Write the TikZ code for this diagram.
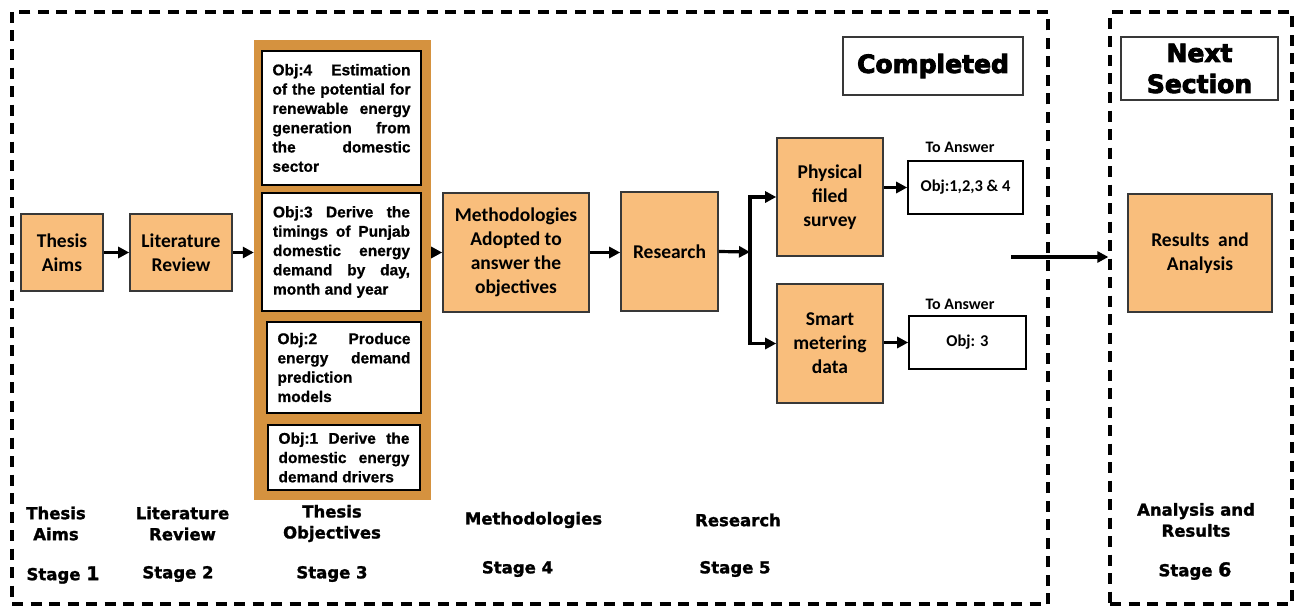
\documentclass[tikz,border=0pt]{standalone}
\usepackage{fontspec}
\setmainfont{Carlito}
\newfontfamily\objfont[BoldFeatures={FakeBold=0.8}]{Liberation Sans}
\newfontfamily\widefont[FakeBold=1.5]{DejaVu Sans Bold}
\newfontfamily\heavyfont[FakeBold=3.5]{DejaVu Sans Bold}
\usetikzlibrary{arrows.meta}

\definecolor{boxfill}{HTML}{F9BE7C}
\definecolor{colfill}{HTML}{D5923F}
\definecolor{edge}{HTML}{383838}

% one justified line / one left-aligned line of an objective text
\newcommand\justln[1]{\hbox to\hsize{#1}}
\newcommand\leftln[1]{\hbox to\hsize{#1\hfil}}

\tikzset{
  stagebox/.style={draw=edge, line width=1.6pt, fill=boxfill, align=center, inner sep=0pt,
    font=\fontsize{19.5}{24}\selectfont\bfseries},
  objbox/.style={draw=black, line width=1.6pt, fill=white, inner sep=0pt,
    font=\objfont\fontsize{15.5}{19.3}\selectfont\bfseries},
  flow/.style={line width=3.2pt, -{Triangle[length=11pt,width=11pt]}},
  plainline/.style={line width=3.2pt},
  frame/.style={draw, line width=3.3pt, dash pattern=on 11pt off 7.5pt, inner sep=0pt},
  stagelabel/.style={align=center, inner sep=0pt, font=\widefont\fontsize{16.5}{21}\selectfont},
  headbox/.style={draw=edge, line width=1.4pt, fill=white, align=center, inner sep=0pt,
    font=\heavyfont\fontsize{25}{31}\selectfont},
  smalllabel/.style={inner sep=0pt, font=\fontsize{16}{20}\selectfont\bfseries},
}

\begin{document}
\begin{tikzpicture}[x=1pt,y=-1pt]
\useasboundingbox (0,0) rectangle (1300,607);

% dashed section frames
\node[frame, minimum width=1036pt, minimum height=592pt] (frameL) at (530,308) {};
\node[frame, minimum width=182pt, minimum height=592pt] (frameR) at (1201,308) {};

% section headings
\node[headbox, minimum width=180pt, minimum height=58pt] (done) at (933,66) {Completed};
\node[headbox, minimum width=157pt, minimum height=63pt] (next) at (1199.5,68.5) {Next\\Section};

% stage boxes
\node[stagebox, minimum width=82pt, minimum height=77pt] (aims) at (62,252.5) {Thesis\\Aims};
\node[stagebox, minimum width=102pt, minimum height=77pt] (lit) at (181,252.5) {Literature\\Review};

% objectives column
\node[fill=colfill, inner sep=0pt, minimum width=177pt, minimum height=460pt] (col) at (342.5,270) {};
\node[objbox, minimum width=159pt, minimum height=134pt] (obj4) at (341.5,118) {\parbox{138pt}{%
  \justln{Obj:4 Estimation}
  \justln{of the potential for}
  \justln{renewable energy}
  \justln{generation from}
  \justln{the domestic}
  \leftln{sector}}};
\node[objbox, minimum width=159pt, minimum height=118pt] (obj3) at (341.5,252) {\parbox{137pt}{%
  \justln{Obj:3 Derive the}
  \justln{timings of Punjab}
  \justln{domestic energy}
  \justln{demand by day,}
  \leftln{month and year}}};
\node[objbox, minimum width=154pt, minimum height=91pt] (obj2) at (344,367.5) {\parbox{133pt}{%
  \justln{Obj:2 Produce}
  \justln{energy demand}
  \leftln{prediction}
  \leftln{models}}};
\node[objbox, minimum width=152pt, minimum height=65pt] (obj1) at (344,457.5) {\parbox{131pt}{%
  \justln{Obj:1 Derive the}
  \justln{domestic energy}
  \leftln{demand drivers}}};

\node[stagebox, minimum width=146pt, minimum height=119pt] (meth) at (516,252.5)
  {Methodologies\\Adopted to\\answer the\\objectives};
\node[stagebox, minimum width=97pt, minimum height=119pt] (res) at (669.5,251.5) {Research};
\node[stagebox, minimum width=106pt, minimum height=118pt] (phys) at (830,197) {Physical\\filed\\survey};
\node[stagebox, minimum width=106pt, minimum height=119pt] (smart) at (830,343.5) {Smart\\metering\\data};

% objectives answered
\node[objbox, font=\fontsize{16.5}{20}\selectfont\bfseries, minimum width=115pt, minimum height=53pt] (ansA) at (965.5,187.5) {Obj:1,2,3 \& 4};
\node[objbox, font=\fontsize{16.5}{20}\selectfont\bfseries, minimum width=117pt, minimum height=53pt] (ansB) at (967.5,342.5) {Obj: 3};
\node[smalllabel] (toA) at (960,147) {To Answer};
\node[smalllabel] (toB) at (960,304) {To Answer};

\node[stagebox, minimum width=144pt, minimum height=118pt] (results) at (1200,253) {Results~~and\\Analysis};

% stage captions
\node[stagelabel] (cap1) at (56,523.5) {Thesis\\Aims};
\node[stagelabel] (cap2) at (182.5,523.5) {Literature\\Review};
\node[stagelabel] (cap3) at (332,523.5) {Thesis\\Objectives};
\node[stagelabel] (cap4) at (533.5,520) {Methodologies};
\node[stagelabel] (cap5) at (738,520) {Research};
\node[stagelabel] (cap6) at (1196,520) {Analysis and\\Results};
\node[stagelabel] (st1) at (63,575) {Stage {\fontsize{19}{19}\selectfont 1}};
\node[stagelabel] (st2) at (178,574) {Stage 2};
\node[stagelabel] (st3) at (332,574) {Stage 3};
\node[stagelabel] (st4) at (517.5,569) {Stage 4};
\node[stagelabel] (st5) at (735,569) {Stage 5};
\node[stagelabel] (st6) at (1195,571) {Stage {\fontsize{19}{19}\selectfont 6}};

% connectors
\coordinate (split) at (750,252);
\coordinate (handover) at (1011,257);
\draw[flow] (aims.east) -- (lit.west);
\draw[flow] (lit.east) -- (lit.east -| col.west);
\draw[flow] (col.east |- meth.west) -- (meth.west);
\draw[flow] (meth.east) -- (meth.east -| res.west);
\draw[flow] (res.east) -- (split);
\draw[plainline] ([yshift=1.6pt]split |- phys.west) -- ([yshift=-1.6pt]split |- smart.west);
\draw[flow] (split |- phys.west) -- (phys.west);
\draw[flow] (split |- smart.west) -- (smart.west);
\draw[flow] (phys.east |- ansA.west) -- (ansA.west);
\draw[flow] (smart.east |- ansB.west) -- (ansB.west);
\draw[flow] (handover) -- (handover -| frameR.west);
\end{tikzpicture}
\end{document}
